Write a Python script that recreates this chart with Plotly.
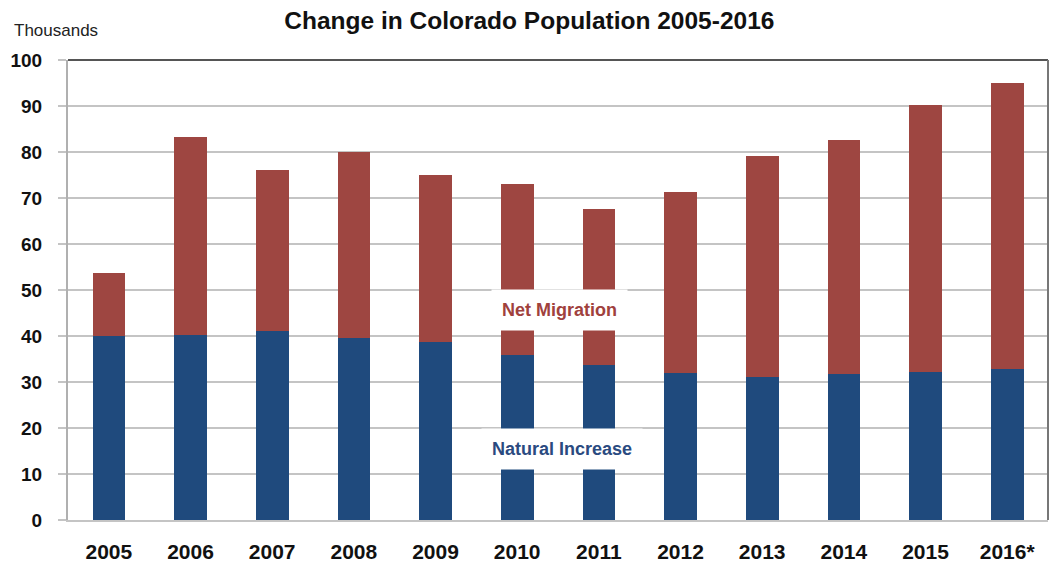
import plotly.graph_objects as go

years = ["2005", "2006", "2007", "2008", "2009", "2010",
         "2011", "2012", "2013", "2014", "2015", "2016*"]
# thousands of people
natural_increase = [39.9, 40.2, 41.0, 39.5, 38.6, 35.8, 33.8, 31.9, 31.1, 31.7, 32.2, 32.8]
total_change = [53.6, 83.2, 76.1, 80.1, 74.9, 73.0, 67.6, 71.2, 79.1, 82.6, 90.2, 95.1]
net_migration = [round(t - n, 1) for t, n in zip(total_change, natural_increase)]

blue = "#1f4a7d"
red = "#9e4641"
font_family = "Liberation Sans, Arial"

fig = go.Figure()
fig.add_trace(go.Bar(x=years, y=natural_increase, name="Natural Increase",
                     marker=dict(color=blue, line=dict(width=0))))
fig.add_trace(go.Bar(x=years, y=net_migration, name="Net Migration",
                     marker=dict(color=red, line=dict(width=0))))

# the page has an 8px body margin, so the figure is drawn a little smaller
fig.update_layout(
    barmode="stack",
    bargap=0.6,
    width=1049, height=557,
    margin=dict(l=60, r=9, t=52, b=45, autoexpand=False),
    plot_bgcolor="white",
    paper_bgcolor="white",
    showlegend=False,
    title=dict(text="<b>Change in Colorado Population 2005-2016</b>",
               x=0.497, xanchor="center", y=0.978, yanchor="middle",
               font=dict(family=font_family, size=24.5, color="#111111")),
)

fig.update_yaxes(range=[0, 100], dtick=10, showgrid=True, gridcolor="#c4c4c4", gridwidth=2,
                 ticks="outside", ticklen=8, tickcolor="#c4c4c4", tickwidth=2,
                 showline=True, linecolor="#b0b0b0", linewidth=2,
                 tickfont=dict(family=font_family, size=19, color="#111111", weight="bold"),
                 ticklabelstandoff=12, zeroline=False, automargin=False)
fig.update_xaxes(showline=True, linecolor="#c4c4c4", linewidth=2, mirror=False,
                 tickfont=dict(family=font_family, size=21, color="#111111", weight="bold"),
                 ticks="", ticklabelstandoff=12, automargin=False)

# frame: dark top and right edges
fig.add_shape(type="line", xref="paper", yref="paper", x0=0, x1=1, y0=1, y1=1,
              line=dict(color="#555555", width=2))
fig.add_shape(type="line", xref="paper", yref="paper", x0=1, x1=1, y0=0, y1=1,
              line=dict(color="#777777", width=2))

fig.add_annotation(text="Thousands", xref="paper", yref="paper", x=-0.057, y=1.065,
                   xanchor="left", yanchor="middle", showarrow=False,
                   font=dict(family=font_family, size=17, color="#222222"))

fig.add_annotation(text="<b>Net Migration</b>", x=5.52, y=45.6, showarrow=False,
                   bgcolor="white", borderpad=10,
                   font=dict(family=font_family, size=18, color="#a0413d"))
fig.add_annotation(text="<b>Natural Increase</b>", x=5.55, y=15.4, showarrow=False,
                   bgcolor="white", borderpad=10,
                   font=dict(family=font_family, size=18, color="#2a4a80"))

fig.write_html("out.html")
